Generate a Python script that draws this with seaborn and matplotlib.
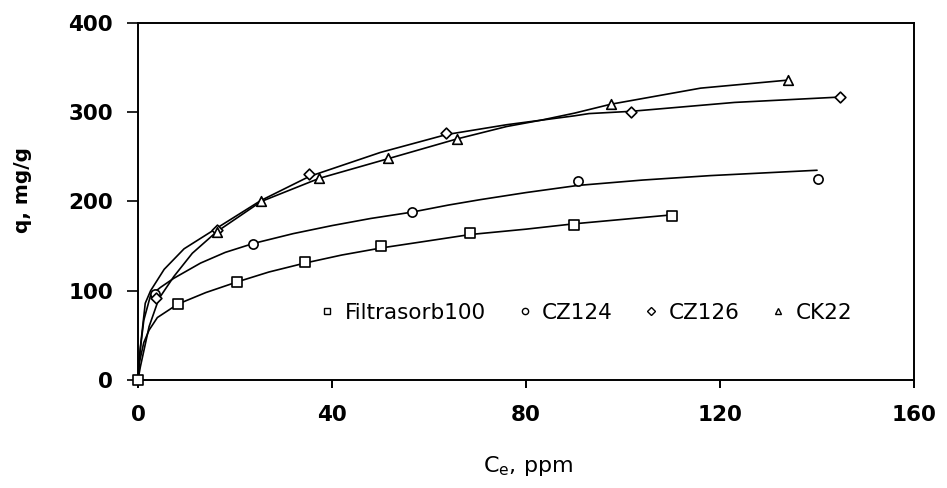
import matplotlib
matplotlib.use("Agg")
import matplotlib.pyplot as plt
import seaborn as sns
import pandas as pd
from matplotlib.lines import Line2D

# measured points
fil_x = [0, 8.2, 20.5, 34.4, 50.2, 68.5, 89.9, 110]
fil_y = [0, 85, 109.5, 132, 150, 165, 174, 184]
cz124_x = [3.5, 23.8, 56.4, 90.7, 140.1]
cz124_y = [96, 152.7, 188, 223.5, 225]
cz126_x = [3.8, 16.2, 35.3, 63.6, 101.6, 144.7]
cz126_y = [91.5, 168, 230.5, 276.4, 300.3, 317.4]
ck22_x = [16.2, 25.4, 37.4, 51.6, 65.7, 97.5, 134]
ck22_y = [166, 200, 226, 248.4, 270, 309, 336]

# fitted isotherm curves
fil_cx = [0, 0.3, 1.2, 2.3, 4, 8.2, 14, 20.5, 27, 34.4, 42, 50.2, 60, 68.5, 80, 89.9, 100, 110]
fil_cy = [0, 20, 42, 56, 70, 85, 98, 110, 121, 131, 140, 148, 156, 163, 169, 175, 180, 185]
cz124_cx = [0, 0.2, 1.2, 2.6, 4.7, 7.4, 12.9, 18, 23.8, 32, 40, 48, 56.4, 64, 70.5, 80, 90.7, 104, 118, 140]
cz124_cy = [0, 22, 67, 95, 104, 114, 131, 143, 153, 164, 173, 181, 188, 196, 202, 210, 218, 224, 229, 235]
cz126_cx = [0, 0.5, 1.5, 2.6, 5.4, 9.5, 16.2, 25.3, 35.3, 50, 63.6, 76, 83, 90, 93, 101.6, 123, 144.7]
cz126_cy = [0, 37, 86, 100, 124, 147, 170, 201, 228, 255, 275, 286, 291, 296, 298.5, 301, 311, 317]
ck22_cx = [0, 0.5, 2.3, 4.3, 7.4, 11.2, 16.2, 25.4, 37.4, 51.6, 65.7, 76, 83, 90, 97.5, 116, 134]
ck22_cy = [0, 15, 60, 91, 116, 142, 166, 200, 226, 248, 270, 284, 291, 299, 309, 327, 336]

names = ["Filtrasorb100", "CZ124", "CZ126", "CK22"]
markers = ["s", "o", "D", "^"]
sizes = [48, 44, 30, 48]

pts = pd.concat([
    pd.DataFrame({"C": fil_x, "q": fil_y, "s": names[0]}),
    pd.DataFrame({"C": cz124_x, "q": cz124_y, "s": names[1]}),
    pd.DataFrame({"C": cz126_x, "q": cz126_y, "s": names[2]}),
    pd.DataFrame({"C": ck22_x, "q": ck22_y, "s": names[3]}),
])
curves = pd.concat([
    pd.DataFrame({"C": fil_cx, "q": fil_cy, "s": names[0]}),
    pd.DataFrame({"C": cz124_cx, "q": cz124_cy, "s": names[1]}),
    pd.DataFrame({"C": cz126_cx, "q": cz126_cy, "s": names[2]}),
    pd.DataFrame({"C": ck22_cx, "q": ck22_cy, "s": names[3]}),
])

sns.set_style("ticks")
plt.rcParams["font.family"] = ["DejaVu Sans"]
plt.rcParams["text.color"] = "black"
plt.rcParams["axes.labelcolor"] = "black"
plt.rcParams["xtick.color"] = "black"
plt.rcParams["ytick.color"] = "black"

fig = plt.figure(figsize=(9.47, 4.88), dpi=100)
ax = fig.add_axes([0.1457, 0.2213, 0.8195, 0.7316])

for n in names:
    sub = curves[curves["s"] == n]
    sns.lineplot(data=sub, x="C", y="q", sort=False, estimator=None,
                 color="black", lw=1.2, ax=ax)

for n, m, sz in zip(names, markers, sizes):
    sub = pts[pts["s"] == n]
    sns.scatterplot(data=sub, x="C", y="q", marker=m, s=sz, facecolor="white",
                    edgecolor="black", linewidth=1.2, ax=ax, zorder=5, clip_on=False)

ax.set_xlim(0, 160)
ax.set_ylim(0, 400)
ax.set_xticks([0, 40, 80, 120, 160])
ax.set_yticks([0, 100, 200, 300, 400])
for sp in ax.spines.values():
    sp.set_visible(True)
    sp.set_linewidth(1.4)
    sp.set_color("black")
ax.tick_params(axis="x", direction="out", length=6, width=1.4, pad=12, labelsize=15.5,
               colors="black")
ax.tick_params(axis="y", direction="out", length=8, width=1.2, pad=10, labelsize=15.5,
               colors="black")
for lab in ax.get_xticklabels() + ax.get_yticklabels():
    lab.set_fontweight("bold")

ax.set_xlabel(r"C$_\mathregular{e}$, ppm", fontsize=16, va="center", color="black")
ax.xaxis.set_label_coords(0.502, -0.241)
ax.set_ylabel("q, mg/g", fontsize=14.5, fontweight="bold", va="center", color="black")
ax.yaxis.set_label_coords(-0.149, 0.532)

handles = [Line2D([], [], ls="none", marker=m, ms=4.5, mfc="white", mec="black", mew=1.0)
           for m in markers]
leg = ax.legend(handles, names, ncol=4, frameon=False, loc="center",
                bbox_to_anchor=(0.578, 0.188), fontsize=15.5, handlelength=0.6,
                handletextpad=0.5, columnspacing=1.5, borderpad=0)
for t in leg.get_texts():
    t.set_color("black")

fig.savefig("out.png", dpi=100)
